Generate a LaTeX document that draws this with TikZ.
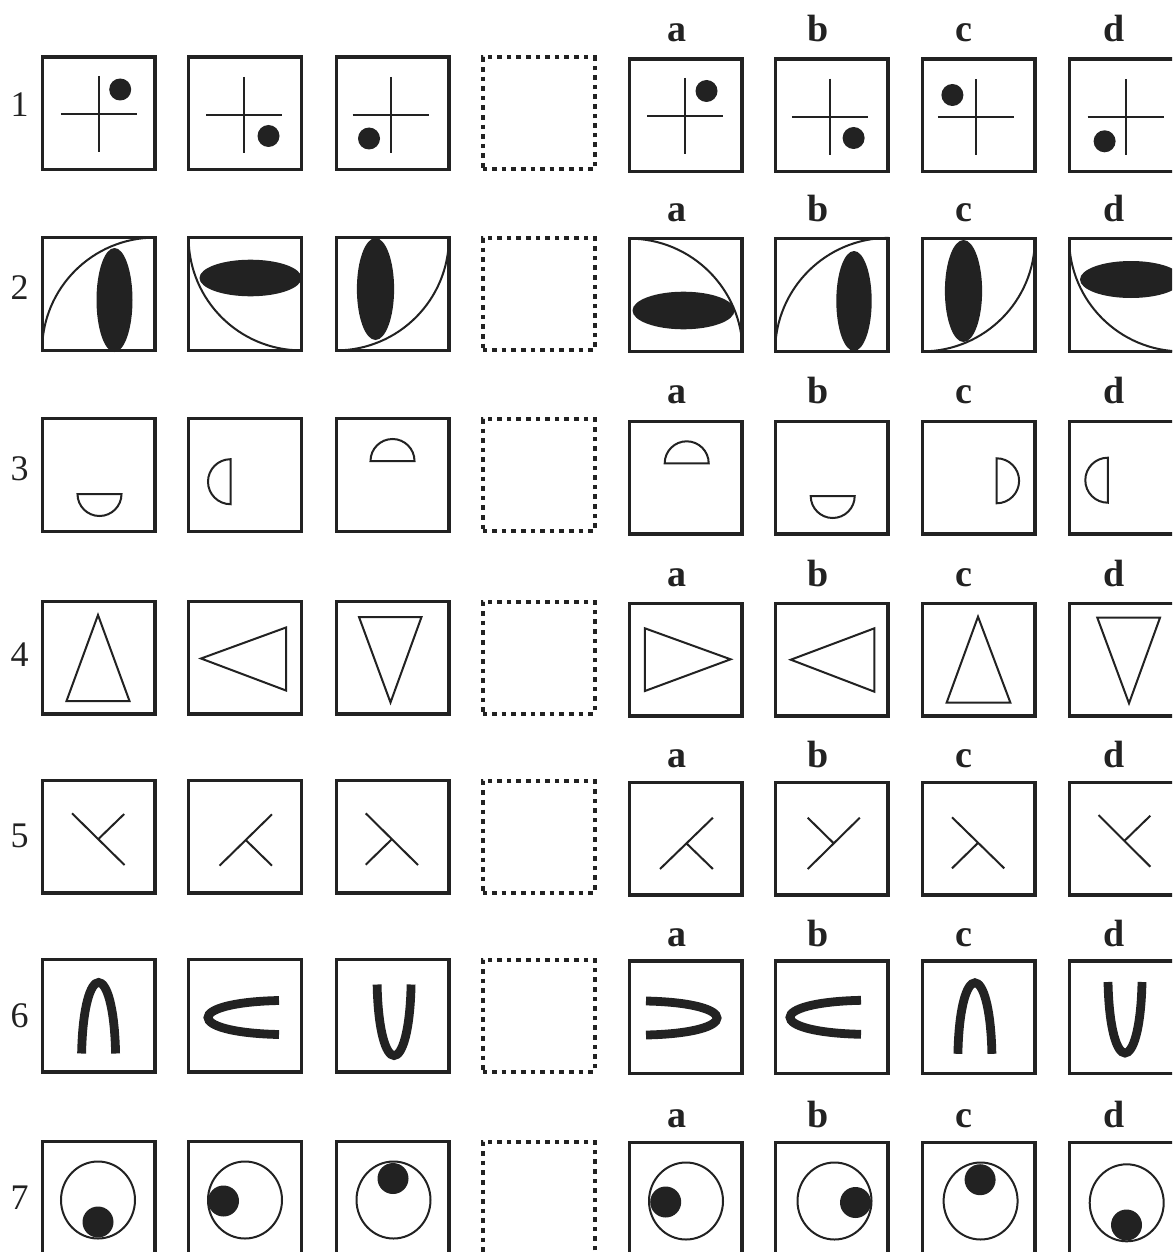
\documentclass[tikz,border=0pt]{standalone}
\usepackage{fontspec}
\setmainfont{Liberation Serif}
\definecolor{ink}{HTML}{222222}
\newcommand\crossdot[2]{\draw[ln] (0,-38) -- (0,38) (-38,0) -- (38,0); \fill[ink] (#1,#2) circle[radius=11];}
\tikzset{
  box/.style={draw=ink, line width=3.4pt, minimum size=112.6pt, inner sep=0pt, outer sep=0pt},
  dbox/.style={draw=ink, line width=4pt, dash pattern=on 4.6pt off 5pt, minimum size=112pt, inner sep=0pt, outer sep=0pt},
  ln/.style={draw=ink, line width=2pt},
  archline/.style={draw=ink, line width=8.8pt, line cap=butt},
  lab/.style={font=\fontsize{38}{42}\selectfont\bfseries, text=ink, anchor=base, inner sep=0pt},
  num/.style={font=\fontsize{36}{40}\selectfont, text=ink, anchor=base, inner sep=0pt},
  arch/.pic={\draw[archline] (-17,38) .. controls (-15,-56.7) and (15,-56.7) .. (17,38);}
}
\begin{document}
\begin{tikzpicture}[x=1pt,y=-1pt]
\useasboundingbox (0,0) rectangle (1172,1252);
\clip (0,0) rectangle (1172,1252);
\fill[white] (0,0) rectangle (1172,1252);

% boxes
\foreach \r/\yl/\yr in {1/113.5/115.5, 2/294/295, 3/475/477.5, 4/657.5/659.5, 5/836.7/838.8, 6/1015.5/1017.3, 7/1197.5/1199}{
  \node[box]  (b\r1) at (98.5,\yl) {};
  \node[box]  (b\r2) at (245,\yl) {};
  \node[box]  (b\r3) at (392.5,\yl) {};
  \node[dbox] (b\r4) at (538.5,\yl) {};
  \node[box]  (b\r5) at (685.5,\yr) {};
  \node[box]  (b\r6) at (831.5,\yr) {};
  \node[box]  (b\r7) at (978.5,\yr) {};
  \node[box]  (b\r8) at (1125.5,\yr) {};
}

% letters
\foreach \r/\yb in {1/41.5, 2/221.7, 3/403, 4/586, 5/767, 6/946, 7/1127}{
  \node[lab] (la\r) at (677,\yb) {a};
  \node[lab] (lb\r) at (818,\yb) {b};
  \node[lab] (lc\r) at (964,\yb) {c};
  \node[lab] (ld\r) at (1114,\yb) {d};
}

% row numbers
\foreach \r/\yb in {1/117, 2/299, 3/480, 4/666, 5/847, 6/1027, 7/1209}{
  \node[num] (n\r) at (19.5,\yb) {\r};
}

% ---- row 1
\begin{scope}[shift={(b11.center)}]\begin{scope}[shift={(0.4,0.5)}]\crossdot{21.3}{-24.5}\end{scope}\end{scope}
\begin{scope}[shift={(b12.center)}]\begin{scope}[shift={(-0.6,1.5)}]\crossdot{24.1}{21}\end{scope}\end{scope}
\begin{scope}[shift={(b13.center)}]\begin{scope}[shift={(-2,1.5)}]\crossdot{-21.5}{23.5}\end{scope}\end{scope}
\begin{scope}[shift={(b15.center)}]\begin{scope}[shift={(-0.5,0.5)}]\crossdot{21.5}{-25}\end{scope}\end{scope}
\begin{scope}[shift={(b16.center)}]\begin{scope}[shift={(-1.7,1.2)}]\crossdot{23.8}{21.3}\end{scope}\end{scope}
\begin{scope}[shift={(b17.center)}]\begin{scope}[shift={(-2.7,1.8)}]\crossdot{-23.4}{-22.3}\end{scope}\end{scope}
\begin{scope}[shift={(b18.center)}]\begin{scope}[shift={(0.2,1.8)}]\crossdot{-21.1}{24}\end{scope}\end{scope}

% ---- row 2
\begin{scope}[shift={(b21.center)}]
  \draw[ln] (-56.4,56.4) arc[start angle=180, end angle=270, radius=112.8];
  \fill[ink] (16,6) ellipse[x radius=18, y radius=52];
\end{scope}
\begin{scope}[shift={(b22.center)}]
  \draw[ln] (-56.4,-56.4) arc[start angle=180, end angle=90, radius=112.8];
  \fill[ink] (5.5,-16) ellipse[x radius=51, y radius=18.3];
\end{scope}
\begin{scope}[shift={(b23.center)}]
  \draw[ln] (-56.4,56.4) arc[start angle=90, end angle=0, radius=112.8];
  \fill[ink] (-17,-5) ellipse[x radius=18.6, y radius=51];
\end{scope}
\begin{scope}[shift={(b25.center)}]
  \draw[ln] (-56.4,-56.4) arc[start angle=270, end angle=360, radius=113.5];
  \fill[ink] (-2,15.5) ellipse[x radius=51, y radius=18.8];
\end{scope}
\begin{scope}[shift={(b26.center)}]
  \draw[ln] (-56.4,56.4) arc[start angle=180, end angle=270, radius=113.5];
  \fill[ink] (22.5,6) ellipse[x radius=17.7, y radius=50];
\end{scope}
\begin{scope}[shift={(b27.center)}]
  \draw[ln] (-56.4,56.4) arc[start angle=90, end angle=0, radius=112.8];
  \fill[ink] (-15,-4) ellipse[x radius=18.6, y radius=51];
\end{scope}
\begin{scope}[shift={(b28.center)}]
  \draw[ln] (-56.4,-56.4) arc[start angle=180, end angle=90, radius=112.8];
  \fill[ink] (5.5,-15.5) ellipse[x radius=51, y radius=18.5];
\end{scope}

% ---- row 3
\begin{scope}[shift={(b31.center)}]
  \draw[ln] (-21,19) -- (23,19) arc[start angle=0, end angle=180, radius=22] -- cycle;
\end{scope}
\begin{scope}[shift={(b32.center)}]
  \draw[ln] (-14.5,-15.8) -- (-14.5,29.2) arc[start angle=90, end angle=270, radius=22.5] -- cycle;
\end{scope}
\begin{scope}[shift={(b33.center)}]
  \draw[ln] (22,-14) -- (-22,-14) arc[start angle=180, end angle=360, radius=22] -- cycle;
\end{scope}
\begin{scope}[shift={(b35.center)}]
  \draw[ln] (23.2,-14.2) -- (-20.8,-14.2) arc[start angle=180, end angle=360, radius=22] -- cycle;
\end{scope}
\begin{scope}[shift={(b36.center)}]
  \draw[ln] (-20.8,18.5) -- (23.2,18.5) arc[start angle=0, end angle=180, radius=22] -- cycle;
\end{scope}
\begin{scope}[shift={(b37.center)}]
  \draw[ln] (18.1,-19.2) -- (18.1,25.8) arc[start angle=90, end angle=-90, radius=22.5] -- cycle;
\end{scope}
\begin{scope}[shift={(b38.center)}]
  \draw[ln] (-17.7,-19.8) -- (-17.7,25.2) arc[start angle=90, end angle=270, radius=22.5] -- cycle;
\end{scope}

% ---- row 4
\begin{scope}[shift={(b41.center)}]
  \draw[ln] (-0.5,-42.5) -- (31,43.5) -- (-32,43.5) -- cycle;
\end{scope}
\begin{scope}[shift={(b42.center)}]
  \draw[ln] (-44,1) -- (41,-30) -- (41,33) -- cycle;
\end{scope}
\begin{scope}[shift={(b43.center)}]
  \draw[ln] (-33.5,-40.5) -- (29,-40.5) -- (-2,45) -- cycle;
\end{scope}
\begin{scope}[shift={(b45.center)}]
  \draw[ln] (-40.6,-31.2) -- (45.1,-0.2) -- (-40.6,31.5) -- cycle;
\end{scope}
\begin{scope}[shift={(b46.center)}]
  \draw[ln] (-40.7,0.2) -- (42.9,-31.2) -- (42.9,32.2) -- cycle;
\end{scope}
\begin{scope}[shift={(b47.center)}]
  \draw[ln] (-0.5,-42.8) -- (31.9,43.2) -- (-31.9,43.2) -- cycle;
\end{scope}
\begin{scope}[shift={(b48.center)}]
  \draw[ln] (-28.2,-41.8) -- (34.5,-41.8) -- (3.5,43.8) -- cycle;
\end{scope}

% ---- row 5
\begin{scope}[shift={(b51.center)}]
  \draw[ln] (-26.5,-23.4) -- (26,28.3) (-0.25,2.45) -- (25.7,-22.7);
\end{scope}
\begin{scope}[shift={(b52.center)}]
  \draw[ln] (-25.5,29) -- (27,-22.4) (0.75,3.3) -- (27,29);
\end{scope}
\begin{scope}[shift={(b53.center)}]
  \draw[ln] (-26.8,-23.4) -- (25.5,28.3) (-0.65,2.45) -- (-26.8,28);
\end{scope}
\begin{scope}[shift={(b55.center)}]
  \draw[ln] (-25.5,30.2) -- (27.4,-21.1) (0.95,4.55) -- (27.4,30.2);
\end{scope}
\begin{scope}[shift={(b56.center)}]
  \draw[ln] (-23.8,30.2) -- (28.3,-21.1) (2.25,4.55) -- (-23.8,-21.1);
\end{scope}
\begin{scope}[shift={(b57.center)}]
  \draw[ln] (-26.5,-21.5) -- (25.7,29.5) (-0.4,4) -- (-26.5,29.5);
\end{scope}
\begin{scope}[shift={(b58.center)}]
  \draw[ln] (-27,-23.8) -- (24.8,27.9) (-1.1,2.05) -- (24.8,-23.1);
\end{scope}

% ---- row 6
\begin{scope}[shift={(b61.center)}]\pic at (0.1,0) {arch};\end{scope}
\begin{scope}[shift={(b62.center)}]\pic[rotate=90] at (-4,2) {arch};\end{scope}
\begin{scope}[shift={(b63.center)}]\pic[rotate=180] at (1.6,7) {arch};\end{scope}
\begin{scope}[shift={(b65.center)}]\pic[rotate=-90] at (-1.5,0.7) {arch};\end{scope}
\begin{scope}[shift={(b66.center)}]\pic[rotate=90] at (-8.5,0) {arch};\end{scope}
\begin{scope}[shift={(b67.center)}]\pic at (-3.6,-1.5) {arch};\end{scope}
\begin{scope}[shift={(b68.center)}]\pic[rotate=180] at (-0.5,2.7) {arch};\end{scope}

% ---- row 7
\begin{scope}[shift={(b71.center)}]
  \draw[ln] (-0.5,2.5) ellipse[x radius=37, y radius=38.5];
  \fill[ink] (-0.5,24.5) circle[radius=15.5];
\end{scope}
\begin{scope}[shift={(b72.center)}]
  \draw[ln] (0,2.5) ellipse[x radius=37, y radius=38.5];
  \fill[ink] (-21.5,3.5) circle[radius=15.5];
\end{scope}
\begin{scope}[shift={(b73.center)}]
  \draw[ln] (1,2.5) ellipse[x radius=37, y radius=38.5];
  \fill[ink] (0.5,-19) circle[radius=15.5];
\end{scope}
\begin{scope}[shift={(b75.center)}]
  \draw[ln] (0.5,2) ellipse[x radius=37, y radius=38.5];
  \fill[ink] (-19.8,3) circle[radius=15.5];
\end{scope}
\begin{scope}[shift={(b76.center)}]
  \draw[ln] (3,2) ellipse[x radius=37, y radius=38.5];
  \fill[ink] (24,3.5) circle[radius=15.5];
\end{scope}
\begin{scope}[shift={(b77.center)}]
  \draw[ln] (2.1,2) ellipse[x radius=37, y radius=38.5];
  \fill[ink] (1.6,-19.3) circle[radius=15.5];
\end{scope}
\begin{scope}[shift={(b78.center)}]
  \draw[ln] (1.2,3.8) ellipse[x radius=37, y radius=38.5];
  \fill[ink] (1,26) circle[radius=15.5];
\end{scope}
\end{tikzpicture}
\end{document}
